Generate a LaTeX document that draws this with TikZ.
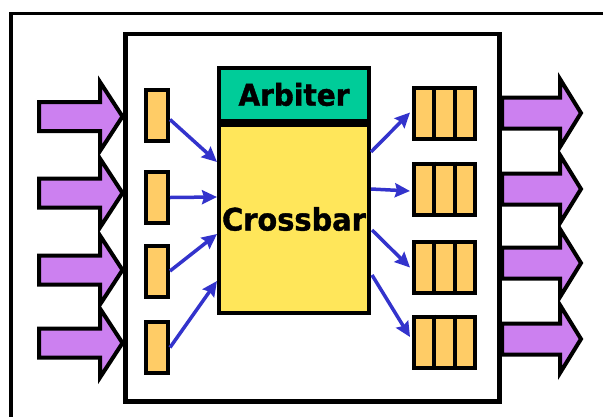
\documentclass[tikz,border=0pt]{standalone}
\usepackage{fontspec}
\usetikzlibrary{arrows.meta,calc}
\newfontfamily\diagfont{DejaVu Sans}[FakeStretch=0.93,FakeBold=1.2]
\definecolor{fatpurple}{RGB}{204,128,240}
\definecolor{bufcol}{RGB}{255,204,102}
\definecolor{arbcol}{RGB}{0,204,153}
\definecolor{xbarcol}{RGB}{255,230,90}
\definecolor{linkblue}{RGB}{51,51,204}
\tikzset{
  frameline/.style={line width=3.5pt},
  boxline/.style={line width=4.5pt},
  inbuf/.style={draw, line width=4pt, fill=bufcol, minimum width=22pt, minimum height=51pt, inner sep=0pt},
  outbuf/.style={draw, line width=4pt, fill=bufcol, minimum width=61pt, minimum height=51pt, inner sep=0pt},
  divider/.style={line width=4pt},
  unitbox/.style={draw, line width=4pt, minimum width=150pt, inner sep=0pt, font=\diagfont\bfseries},
  link/.style={draw=linkblue, line width=3.5pt, -{Stealth[length=15pt,width=14pt,inset=2pt]}},
  fat/.style={draw, line width=4pt, fill=fatpurple, line join=miter},
  larrow/.pic={\path[fat] (0,-14.5) -- (61,-14.5) -- (61,-34.5) -- (83.5,0) -- (61,34.5) -- (61,14.5) -- (0,14.5) -- cycle;},
  rarrow/.pic={\path[fat] (0,-15.5) -- (58,-15.5) -- (58,-34) -- (79,0) -- (58,34) -- (58,15.5) -- (0,15.5) -- cycle;}
}
\begin{document}
\begin{tikzpicture}[x=1pt,y=-1pt]
\useasboundingbox (0,0) rectangle (603,416);
\clip (0,0) rectangle (603,416);
\fill[white] (0,0) rectangle (603,416);
\draw[frameline] (11,13.5) rectangle (650,460);
\draw[boxline] (125.5,34) rectangle (499.5,401.5);
% big input arrows
\foreach \y in {116.5,193,270,343} { \pic at (39,\y) {larrow}; }
% big output arrows
\foreach \y in {113,189,263,339} { \pic at (502,\y) {rarrow}; }
% arbiter and crossbar
\node[unitbox, fill=arbcol, minimum height=53pt, font=\diagfont\bfseries\fontsize{30}{30}\selectfont] (arb) at (294,94.5) {Arbiter};
\node[unitbox, fill=xbarcol, minimum height=188pt, font=\diagfont\bfseries\fontsize{31}{31}\selectfont] (xbar) at (294,219) {Crossbar};
% input buffers
\node[inbuf] (ib1) at (157,115.5) {};
\node[inbuf] (ib2) at (157,197.5) {};
\node[inbuf] (ib3) at (157,271) {};
\node[inbuf] (ib4) at (157,347.5) {};
% output buffers
\node[outbuf] (ob1) at (444.5,113.5) {};
\node[outbuf] (ob2) at (444.5,189) {};
\node[outbuf] (ob3) at (444.5,267.5) {};
\node[outbuf] (ob4) at (444.5,342) {};
\foreach \b in {ob1,ob2,ob3,ob4} {
  \draw[divider] ($(\b.north west)!1/3!(\b.north east)$) -- ($(\b.south west)!1/3!(\b.south east)$);
  \draw[divider] ($(\b.north west)!2/3!(\b.north east)$) -- ($(\b.south west)!2/3!(\b.south east)$);
}
% connection points on crossbar
\coordinate (cl1) at (217,162);
\coordinate (cl2) at (217,197);
\coordinate (cl3) at (217,234);
\coordinate (cl4) at (217,281);
\coordinate (cr1) at (371,152);
\coordinate (cr2) at (371,189);
\coordinate (cr3) at (372,230);
\coordinate (cr4) at (372,275);
\draw[link] ($(ib1.east)+(0,4)$) -- (cl1);
\draw[link] (ib2.east) -- (cl2);
\draw[link] (ib3.east) -- (cl3);
\draw[link] (ib4.east) -- (cl4);
\draw[link] (cr1) -- ($(ob1.west)+(-2,-1)$);
\draw[link] (cr2) -- ($(ob2.west)+(-2,2)$);
\draw[link] (cr3) -- ($(ob3.west)+(-2,0)$);
\draw[link] (cr4) -- ($(ob4.west)+(-2,-5)$);
\end{tikzpicture}
\end{document}
